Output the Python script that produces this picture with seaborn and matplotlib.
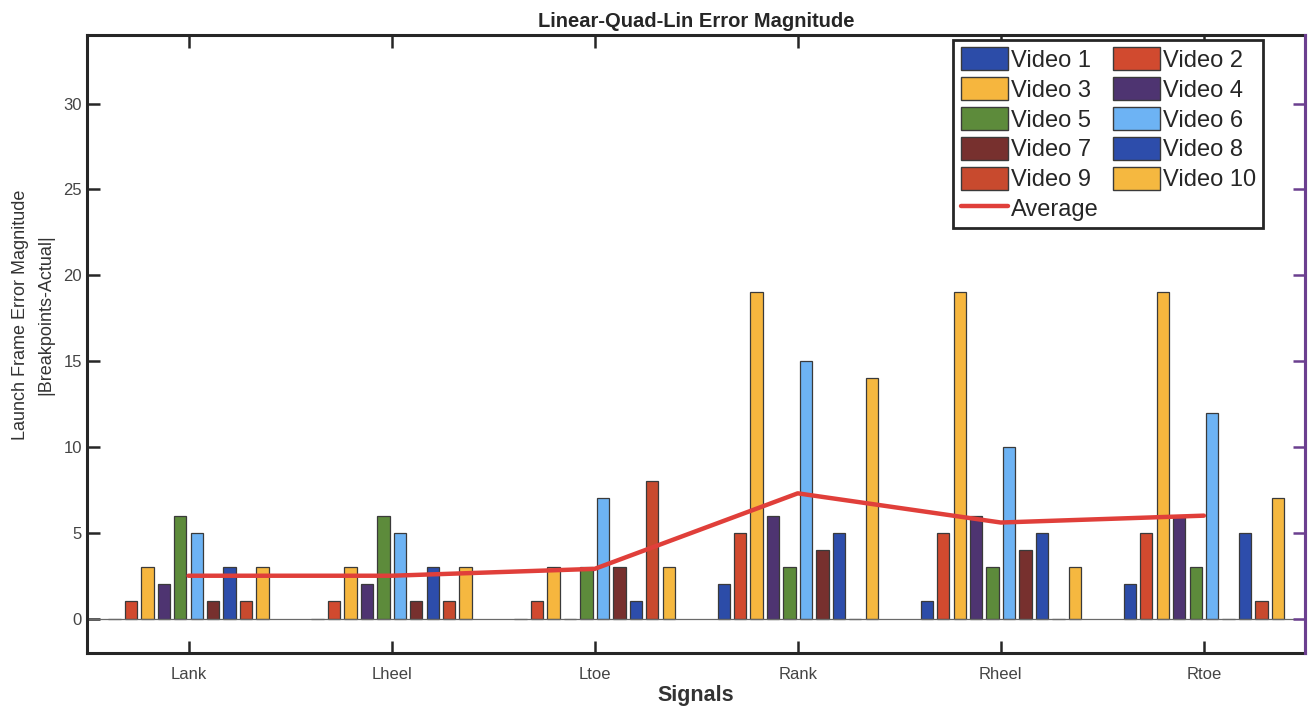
import numpy as np
import pandas as pd
import seaborn as sns
import matplotlib.pyplot as plt
from matplotlib.patches import Patch
from matplotlib.lines import Line2D

signals = ["Lank", "Lheel", "Ltoe", "Rank", "Rheel", "Rtoe"]
videos = ["Video %d" % i for i in range(1, 11)]

# error magnitude per video, one value per signal
video_1 = [0, 0, 0, 2, 1, 2]
video_2 = [1, 1, 1, 5, 5, 5]
video_3 = [3, 3, 3, 19, 19, 19]
video_4 = [2, 2, 0, 6, 6, 6]
video_5 = [6, 6, 3, 3, 3, 3]
video_6 = [5, 5, 7, 15, 10, 12]
video_7 = [1, 1, 3, 4, 4, 0]
video_8 = [3, 3, 1, 5, 5, 5]
video_9 = [1, 1, 8, 0, 0, 1]
video_10 = [3, 3, 3, 14, 3, 7]

colores = ["#2C4CA8", "#D14A2F", "#F6B63E", "#4E3471", "#5D8B3B",
           "#6DB3F4", "#77302E", "#2D4DAB", "#C84A2E", "#F5B840"]

series = [video_1, video_2, video_3, video_4, video_5,
          video_6, video_7, video_8, video_9, video_10]

filas = []
for nombre, valores in zip(videos, series):
    for senal, v in zip(signals, valores):
        filas.append({"Signal": senal, "Video": nombre, "Error": v})
df = pd.DataFrame(filas)
media = df.groupby("Signal", sort=False)["Error"].mean().reindex(signals)

sns.set_style("white")
plt.rcParams["font.family"] = ["Liberation Sans", "DejaVu Sans"]

fig = plt.figure(figsize=(13.12, 7.08), dpi=100)
ax = fig.add_axes([0.0663, 0.0777, 0.9287, 0.8729])

sns.barplot(data=df, x="Signal", y="Error", hue="Video", order=signals,
            hue_order=videos, palette=colores, saturation=1, width=0.81,
            gap=0.25, edgecolor="#3a3a3a", linewidth=0.9, ax=ax,
            legend=False)
ax.axhline(0, color="#6a6a6a", lw=0.9, zorder=1)
ax.plot(np.arange(len(signals)), media.values, color="#E03F3A", lw=3.2,
        zorder=5)

ax.set_xlim(-0.5, 5.5)
ax.set_ylim(-2, 34)
ax.set_yticks(np.arange(0, 31, 5))
ax.set_xticks(np.arange(len(signals)))
ax.set_xticklabels(signals)

ax.tick_params(direction="in", length=9, width=1.8, colors="#262626",
               labelcolor="#444444", labelsize=12, top=True, bottom=True,
               left=True, right=False)
ax.tick_params(axis="x", pad=10)
for lado in ["left", "top", "bottom"]:
    ax.spines[lado].set_color("#262626")
    ax.spines[lado].set_linewidth(2.2)
ax.spines["right"].set_color("#6B3F8F")
ax.spines["right"].set_linewidth(2.2)

# eje derecho morado sin etiquetas
ax2 = ax.twinx()
ax2.set_ylim(ax.get_ylim())
ax2.set_yticks(np.arange(0, 31, 5))
ax2.set_yticklabels([])
ax2.tick_params(direction="in", length=9, width=1.8, colors="#6B3F8F",
                right=True)
for lado in ["left", "top", "bottom"]:
    ax2.spines[lado].set_visible(False)
ax2.spines["right"].set_color("#6B3F8F")
ax2.spines["right"].set_linewidth(2.2)

ax.set_title("Linear-Quad-Lin Error Magnitude", fontsize=14.5,
             fontweight="bold", color="#262626", pad=6)
ax.set_xlabel("Signals", fontsize=15.5, fontweight="bold", color="#333333",
              labelpad=2)
ax.set_ylabel("Launch Frame Error Magnitude\n|Breakpoints-Actual|",
              fontsize=13, color="#333333", linespacing=1.6)
ax.yaxis.set_label_coords(-0.027, 0.547)

# leyenda en dos columnas (orden por filas como el original)
manejadores = [Patch(facecolor=c, edgecolor="#3a3a3a", label=n)
               for n, c in zip(videos, colores)]
linea = Line2D([0], [0], color="#E03F3A", lw=3.2, label="Average")
orden = manejadores[0::2] + [linea] + manejadores[1::2]
leg = ax2.legend(handles=orden, ncol=2, loc="upper right",
                 bbox_to_anchor=(0.965, 0.992), fontsize=17,
                 frameon=True, fancybox=False, framealpha=1,
                 edgecolor="#262626", handlelength=2.0, handleheight=1.15,
                 handletextpad=0.12, labelspacing=0.22, columnspacing=0.6,
                 borderpad=0.3, borderaxespad=0)
leg.get_frame().set_linewidth(2)
for t in leg.get_texts():
    t.set_color("#262626")

fig.savefig("out.png", dpi=100)
